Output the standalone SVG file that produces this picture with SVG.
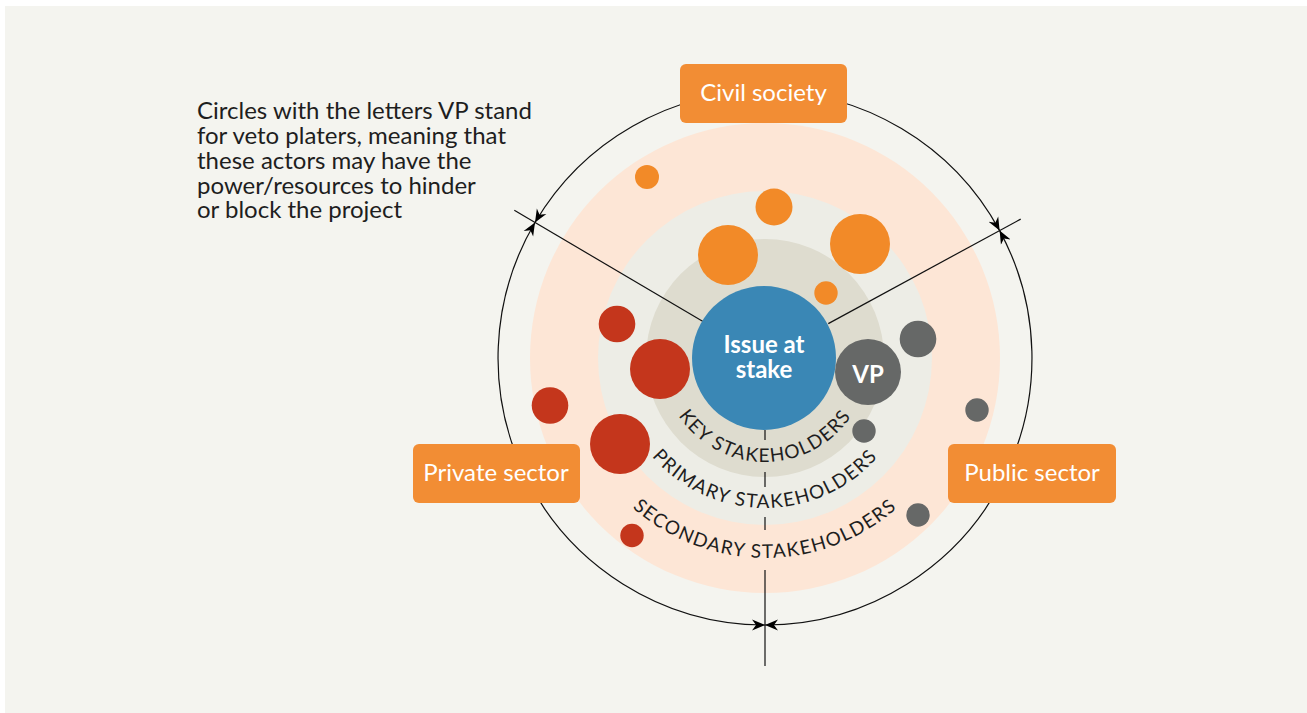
<svg xmlns="http://www.w3.org/2000/svg" width="1307" height="713" viewBox="0 0 1307 713">
<style>
.box{fill:#f28d34}
.boxt{font-family:Lato,"Open Sans",sans-serif;font-size:24px;fill:#ffffff;text-anchor:middle}
.note{font-family:Lato,"Open Sans",sans-serif;font-size:24px;fill:#1e1e1e}
.ring{font-family:Lato,"Open Sans",sans-serif;font-size:19px;fill:#1e1e1e;letter-spacing:1.3px}
.arc{fill:none;stroke:#111;stroke-width:1.2;marker-end:url(#ah)}
.rad{stroke:#111;stroke-width:1.2;fill:none}
.or{fill:#f28a28}
.rd{fill:#c4361c}
.gy{fill:#666867}
.ctr{font-family:Lato,"Open Sans",sans-serif;font-weight:bold;font-size:24px;fill:#ffffff;text-anchor:middle}
</style>
<defs>
<marker id="ah" viewBox="-13 -6 14 12" refX="0" refY="0" markerWidth="14" markerHeight="12" markerUnits="userSpaceOnUse" orient="auto">
<path d="M0,0 L-13,-5.5 L-9,0 L-13,5.5 Z" fill="#000"/>
</marker>
<path id="pKey" d="M661,358 A104,104 0 0 0 869,358"/>
<path id="pPri" d="M615,358 A150,150 0 0 0 915,358"/>
<path id="pSec" d="M565,358 A200,200 0 0 0 965,358"/>
</defs>
<rect x="0" y="0" width="1307" height="713" fill="#ffffff"/>
<rect x="5" y="6" width="1302" height="707" fill="#f4f4ef"/>

<g id="rings">
<circle cx="765" cy="358" r="235" fill="#fde6d6"/>
<circle cx="765" cy="358" r="167" fill="#edede6"/>
<circle cx="765" cy="358" r="119" fill="#dedccf"/>
</g>

<g id="connectors">
<path class="rad" d="M703,321.5 L514.3,210.3"/>
<path class="rad" d="M828.3,323.6 L1020.7,219.1"/>
<path class="rad" d="M765,430 V440 M765,472 V487 M765,517 V530 M765,570 V666"/>
<path class="arc" d="M765,91 A267,267 0 0 0 535,222.5"/>
<path class="arc" d="M765,91 A267,267 0 0 1 999.6,230.6"/>
<path class="arc" d="M1005.7,473.5 A267,267 0 0 0 999.6,230.6"/>
<path class="arc" d="M1005.7,473.5 A267,267 0 0 1 765,625"/>
<path class="arc" d="M524.3,473.5 A267,267 0 0 0 765,625"/>
<path class="arc" d="M524.3,473.5 A267,267 0 0 1 535,222.5"/>
</g>

<g id="ring-labels">
<text class="ring"><textPath href="#pKey" startOffset="50%" text-anchor="middle">KEY STAKEHOLDERS</textPath></text>
<text class="ring"><textPath href="#pPri" startOffset="50%" text-anchor="middle">PRIMARY STAKEHOLDERS</textPath></text>
<text class="ring"><textPath href="#pSec" startOffset="50%" text-anchor="middle">SECONDARY STAKEHOLDERS</textPath></text>
</g>

<g id="civil-actors">
<circle class="or" cx="647" cy="177" r="12"/>
<circle class="or" cx="774" cy="207" r="18.5"/>
<circle class="or" cx="728" cy="255" r="30"/>
<circle class="or" cx="860" cy="244" r="30"/>
<circle class="or" cx="826" cy="293" r="11.7"/>
</g>
<g id="private-actors">
<circle class="rd" cx="617" cy="324" r="18.3"/>
<circle class="rd" cx="660" cy="369" r="30"/>
<circle class="rd" cx="550" cy="405.5" r="18.3"/>
<circle class="rd" cx="620" cy="444" r="30"/>
<circle class="rd" cx="632" cy="535.5" r="11.7"/>
</g>
<g id="public-actors">
<circle class="gy" cx="918" cy="339" r="18.3"/>
<circle class="gy" cx="864" cy="431" r="11.7"/>
<circle class="gy" cx="977" cy="410" r="11.7"/>
<circle class="gy" cx="918" cy="515" r="11.7"/>
</g>

<g id="issue">
<circle cx="764" cy="358" r="72" fill="#3a87b5"/>
<text class="ctr" x="764" y="353">Issue at</text>
<text class="ctr" x="764" y="378">stake</text>
</g>
<g id="vp">
<circle cx="868" cy="372" r="33" fill="#666867"/>
<text class="ctr" x="868" y="383">VP</text>
</g>

<g id="civil-society">
<rect class="box" x="680" y="64" width="167" height="59" rx="6"/>
<text class="boxt" x="763.5" y="101">Civil society</text>
</g>
<g id="private-sector">
<rect class="box" x="413" y="444" width="167" height="59" rx="6"/>
<text class="boxt" x="496" y="481">Private sector</text>
</g>
<g id="public-sector">
<rect class="box" x="948" y="444" width="168" height="59" rx="6"/>
<text class="boxt" x="1032" y="481">Public sector</text>
</g>

<g id="note">
<text class="note" x="197" y="119">Circles with the letters VP stand</text>
<text class="note" x="197" y="144">for veto platers, meaning that</text>
<text class="note" x="197" y="169">these actors may have the</text>
<text class="note" x="197" y="194">power/resources to hinder</text>
<text class="note" x="197" y="218">or block the project</text>
</g>
</svg>
